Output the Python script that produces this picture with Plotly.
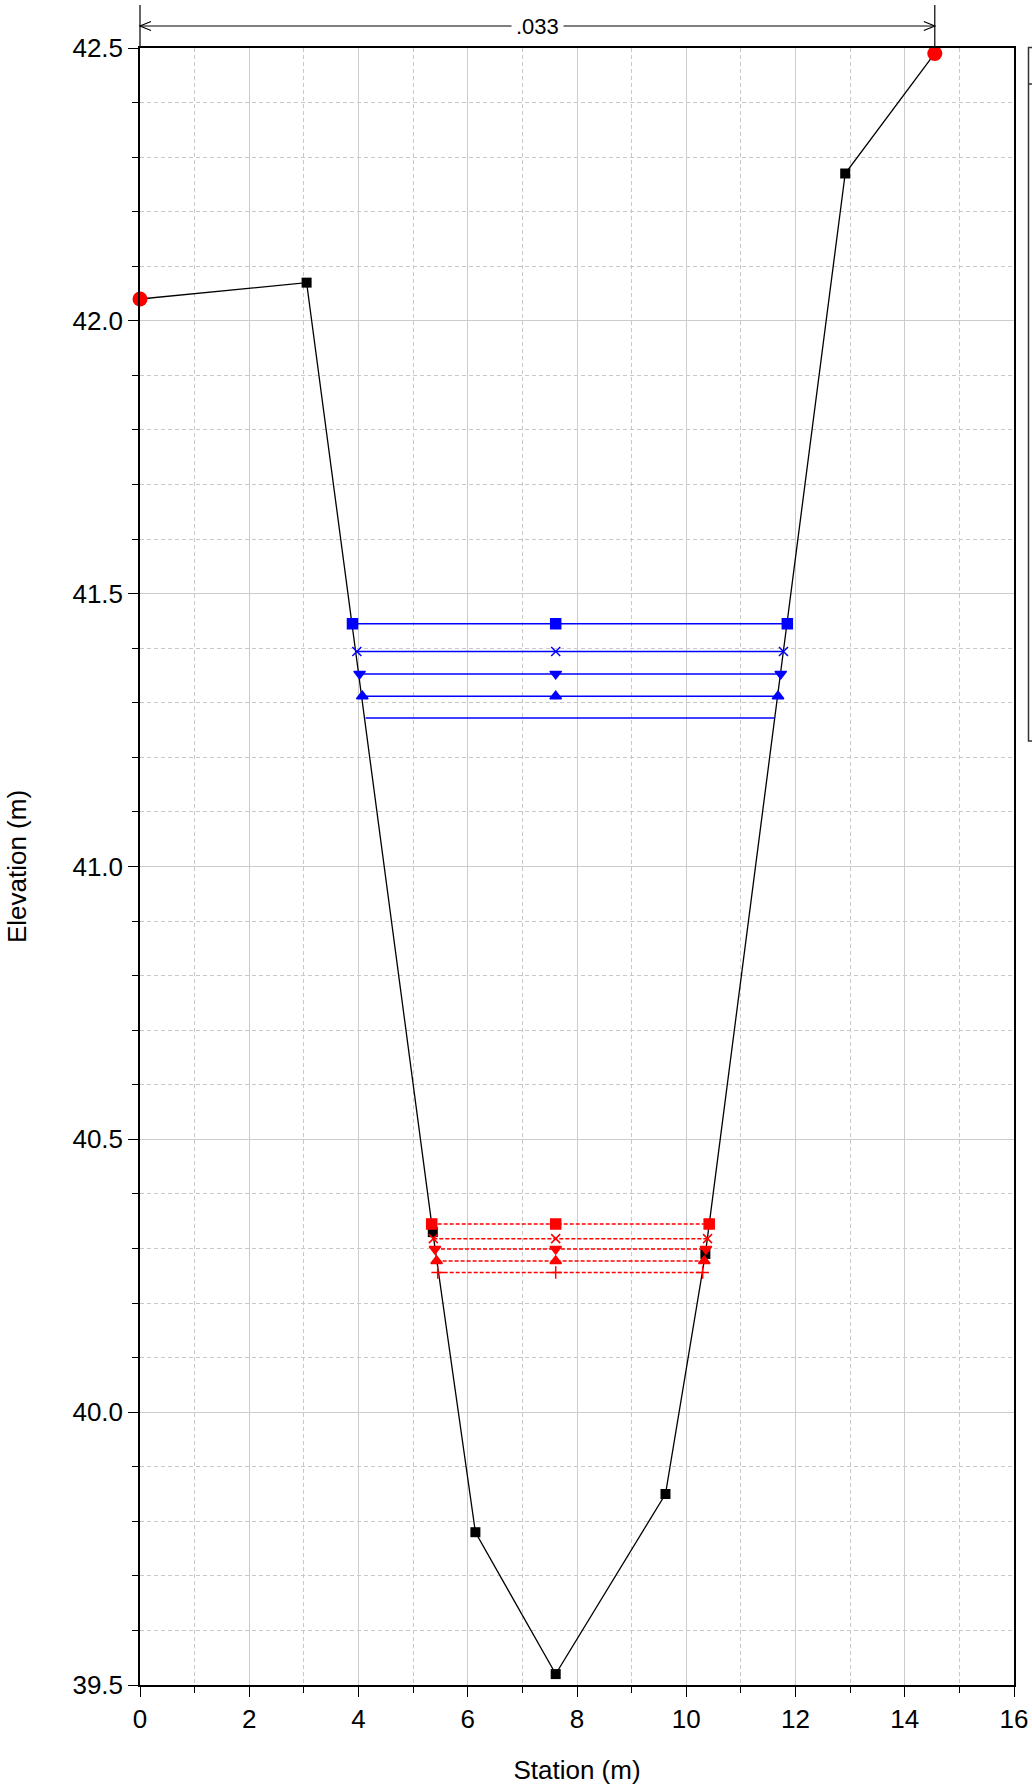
import plotly.graph_objects as go

# Ground profile of the cross section
station = [0.0, 3.05, 5.36, 6.14, 7.61, 9.62, 10.35, 12.91, 14.55]
elevation = [42.04, 42.07, 40.33, 39.78, 39.52, 39.85, 40.29, 42.27, 42.49]

# Bank stations (end points of the ground line)
bank_station = [0.0, 14.55]
bank_elev = [42.04, 42.49]

# Manning's n label over the section
n_value = ".033"

# Water surfaces, first profile set (solid blue)
ws1_elev = [41.445, 41.394, 41.353, 41.312, 41.272]
ws1_left = [3.89, 3.97, 4.02, 4.07, 4.13]
ws1_right = [11.85, 11.78, 11.73, 11.68, 11.62]
ws1_symbol = ["square", "x-thin", "triangle-down", "triangle-up", None]

# Water surfaces, second profile set (dashed red)
ws2_elev = [40.345, 40.318, 40.299, 40.277, 40.256]
ws2_left = [5.34, 5.37, 5.40, 5.43, 5.45]
ws2_right = [10.42, 10.39, 10.36, 10.33, 10.30]
ws2_symbol = ["square", "x-thin", "triangle-down", "triangle-up", "cross-thin"]

mid_station = 7.61

X_MIN, X_MAX = 0, 16
Y_MIN, Y_MAX = 39.5, 42.5

W, H = 1032, 1791
ML, MR, MT, MB = 140, 18, 48, 106
PW = W - ML - MR
PH = H - MT - MB

FONT = "Liberation Sans, Arial, sans-serif"

fig = go.Figure()

fig.add_trace(go.Scatter(
    x=station, y=elevation, mode="lines+markers",
    line=dict(color="black", width=1.3),
    marker=dict(symbol="square", size=10, color="black"),
    cliponaxis=False, showlegend=False, hoverinfo="x+y"))

fig.add_trace(go.Scatter(
    x=bank_station, y=bank_elev, mode="markers",
    marker=dict(symbol="circle", size=15, color="#ff0000"),
    cliponaxis=False, showlegend=False, hoverinfo="x+y"))


def add_ws(elev, left, right, symbols, color, dash):
    for z, xl, xr, sym in zip(elev, left, right, symbols):
        xs = [xl, mid_station, xr]
        ys = [z, z, z]
        fig.add_trace(go.Scatter(
            x=xs, y=ys, mode="lines",
            line=dict(color=color, width=1.5, dash=dash),
            showlegend=False, hoverinfo="skip"))
        if sym is not None:
            fig.add_trace(go.Scatter(
                x=xs, y=ys, mode="markers",
                marker=dict(symbol=sym, size=10 if "thin" not in sym else 9,
                            color=color,
                            line=dict(color=color, width=1.5)),
                showlegend=False, hoverinfo="x+y"))


add_ws(ws1_elev, ws1_left, ws1_right, ws1_symbol, "#0000ff", "solid")
add_ws(ws2_elev, ws2_left, ws2_right, ws2_symbol, "#ff0000", "4px,2px")


def px_x(px):
    return (px - ML) / PW


def px_y(py):
    return 1 - (py - MT) / PH


# Dimension line carrying the n value
x_end = bank_station[1] / (X_MAX - X_MIN)
y_dim = px_y(26)
y_top = px_y(5)
ah_dx = 11 / PW
ah_dy = 4.5 / PH
shapes = [
    dict(type="line", xref="paper", yref="paper", x0=0, x1=x_end,
         y0=y_dim, y1=y_dim, line=dict(color="black", width=1.2)),
    dict(type="line", xref="paper", yref="paper", x0=x_end, x1=x_end,
         y0=1, y1=y_top, line=dict(color="black", width=1.2)),
    dict(type="line", xref="paper", yref="paper", x0=0, x1=0,
         y0=1, y1=y_top, line=dict(color="black", width=1.2)),
    dict(type="path", xref="paper", yref="paper",
         path=f"M {ah_dx} {y_dim + ah_dy} L 0 {y_dim} L {ah_dx} {y_dim - ah_dy}",
         line=dict(color="black", width=1.2)),
    dict(type="path", xref="paper", yref="paper",
         path=f"M {x_end - ah_dx} {y_dim + ah_dy} L {x_end} {y_dim} L {x_end - ah_dx} {y_dim - ah_dy}",
         line=dict(color="black", width=1.2)),
    # legend frame at the right edge
    dict(type="rect", xref="paper", yref="paper",
         x0=px_x(1028.5), x1=px_x(1045), y0=px_y(741), y1=px_y(47.5),
         line=dict(color="#333333", width=1.5)),
    dict(type="line", xref="paper", yref="paper",
         x0=px_x(1028.5), x1=px_x(1045), y0=px_y(84), y1=px_y(84),
         line=dict(color="#333333", width=1.5)),
]

annotations = [
    dict(x=(bank_station[0] + bank_station[1]) / 2 / (X_MAX - X_MIN),
         y=y_dim, xref="paper", yref="paper", text=n_value, showarrow=False,
         font=dict(family=FONT, size=22, color="black"),
         bgcolor="white", borderpad=4, xanchor="center", yanchor="middle"),
]

fig.update_layout(
    width=W, height=H,
    margin=dict(l=ML, r=MR, t=MT, b=MB, pad=0, autoexpand=False),
    paper_bgcolor="white", plot_bgcolor="white",
    font=dict(family=FONT, size=26, color="black"),
    shapes=shapes, annotations=annotations,
    showlegend=False,
)

fig.update_xaxes(
    range=[X_MIN, X_MAX], dtick=2, tick0=0, automargin=False,
    showline=True, linecolor="black", linewidth=1.5, mirror=True,
    ticks="outside", ticklen=10, tickcolor="black", tickwidth=1,
    showgrid=True, gridcolor="#cccccc", gridwidth=1,
    zeroline=False,
    minor=dict(dtick=1, ticks="outside", ticklen=6, tickcolor="black",
               showgrid=True, gridcolor="#c8c8c8", griddash="4px,3px", gridwidth=1),
    title=dict(text="Station (m)", font=dict(size=26), standoff=28),
    tickfont=dict(size=26),
)

fig.update_yaxes(
    range=[Y_MIN, Y_MAX], dtick=0.5, tick0=39.5, tickformat=".1f", automargin=False,
    showline=True, linecolor="black", linewidth=1.5, mirror=True,
    ticks="outside", ticklen=10, tickcolor="black", tickwidth=1,
    showgrid=True, gridcolor="#cccccc", gridwidth=1,
    zeroline=False,
    minor=dict(dtick=0.1, ticks="outside", ticklen=6, tickcolor="black",
               showgrid=True, gridcolor="#c8c8c8", griddash="4px,3px", gridwidth=1),
    title=dict(text="Elevation (m)", font=dict(size=26), standoff=38),
    tickfont=dict(size=26),
)

fig.write_html("out.html")
